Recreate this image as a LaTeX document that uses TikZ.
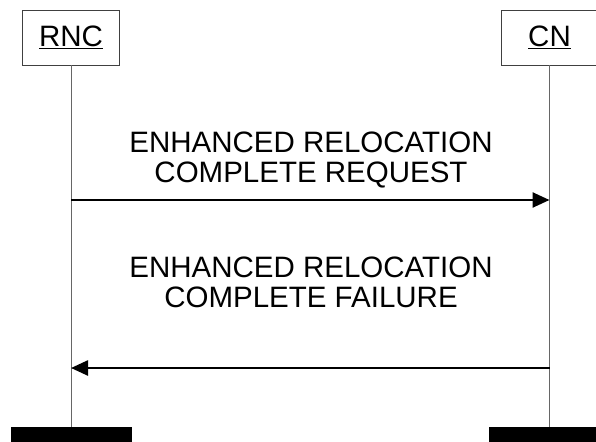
\documentclass[tikz,border=0pt]{standalone}
\usepackage{fontspec}
\setmainfont{Liberation Sans}
\usetikzlibrary{arrows.meta,positioning}

\begin{document}
\begin{tikzpicture}[x=1pt, y=-1pt,
    entity/.style={rectangle, draw=black!75, line width=0.9pt, minimum width=97pt,
      minimum height=55pt, inner sep=0pt, font=\fontsize{29.5}{30.5}\selectfont},
    endbar/.style={rectangle, fill=black, minimum width=121pt, minimum height=16pt, inner sep=0pt},
    lifeline/.style={draw=black!60, line width=1pt},
    msg/.style={draw=black, line width=2.5pt, -{Triangle[length=17pt,width=15pt]}},
    msglabel/.style={align=center, inner sep=0pt, font=\fontsize{29.5}{30.4}\selectfont}
  ]
    \useasboundingbox (0,0) rectangle (596,441);

    % Entities
    \node[entity] (rnc) at (71,37.5)    {\underline{RNC}};
    \node[entity] (cn)  at (549.5,37.5) {\underline{CN}};

    % End bars
    \node[endbar] (rncbar) at (71,435)  {};
    \node[endbar] (cnbar)  at (549.5,435) {};

    % Lifelines
    \draw[lifeline] (rnc.south) -- (rncbar.north);
    \draw[lifeline] (cn.south)  -- (cnbar.north);

    % Message 1 -- request
    \coordinate (rncreq) at (71,200);
    \coordinate (cnreq)  at (549.5,200);
    \node[msglabel, anchor=base] (reqlabel) at (311,182.7) {ENHANCED RELOCATION\\COMPLETE REQUEST};
    \draw[msg] (rncreq) -- (cnreq);

    % Message 2 -- failure
    \coordinate (cnfail)  at (549.5,368);
    \coordinate (rncfail) at (71,368);
    \node[msglabel, anchor=base] (faillabel) at (311,307.7) {ENHANCED RELOCATION\\COMPLETE FAILURE};
    \draw[msg] (cnfail) -- (rncfail);
  \end{tikzpicture}
\end{document}
